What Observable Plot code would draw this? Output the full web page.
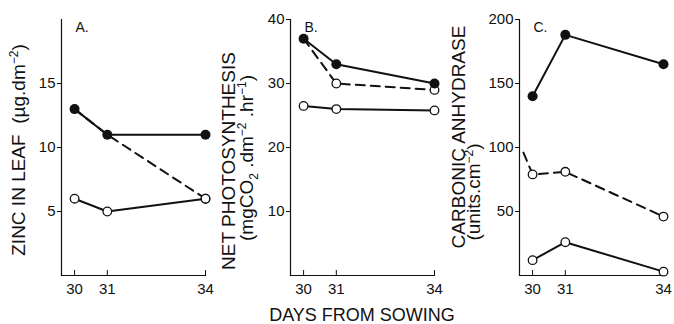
<!DOCTYPE html>
<html><head><meta charset="utf-8">
<script src="https://cdn.jsdelivr.net/npm/d3@7"></script>
<script src="https://cdn.jsdelivr.net/npm/@observablehq/plot@0.6"></script>
<style>
body{margin:0;background:#fff;font-family:"Liberation Sans",Arial,sans-serif;}
#wrap{position:relative;width:674px;height:324px;overflow:hidden;background:#fff}
.panel{position:absolute;top:0}
#caption{position:absolute;top:306px;left:262px;width:200px;text-align:center;font-size:18px;line-height:18px;color:#111;white-space:nowrap}
</style></head><body><div id="wrap"><div id="caption">DAYS FROM SOWING</div></div>
<script>
// Days from sowing (x categories)
const days = [30, 31, 34];

// A. Zinc in leaf (µg.dm-2)
const zincControl = [13, 11, 11];
const zincDeficient = [6, 5, 6];
const zincResuppliedDays = [30, 31, 34];
const zincResupplied = [13, 11, 6];
const zincTicks = [5, 10, 15];

// B. Net photosynthesis (mgCO2.dm-2.hr-1)
const psControl = [37, 33, 30];
const psDeficient = [26.5, 26, 25.8];
const psResuppliedDays = [30, 31, 34];
const psResupplied = [37, 30, 29];
const psTicks = [10, 20, 30, 40];

// C. Carbonic anhydrase (units.cm-2)
const caControl = [140, 188, 165];
const caDeficient = [12, 26, 3];
const caResuppliedDays = [29.72, 30, 31, 34];
const caResupplied = [96, 79, 81, 46];
const caTicks = [50, 100, 150, 200];

const FONT = '"Liberation Sans", Arial, sans-serif';
const INK = "#111";

const panels = [
  {left: 0, width: 229, yMax: 20, yTicks: zincTicks, control: zincControl, deficient: zincDeficient,
   resDays: zincResuppliedDays, resupplied: zincResupplied, letter: "A.",
   labels: [{x: 25, y: 150, parts: [["ZINC IN LEAF  (µg.dm"], ["−2", "sup"], [")"]]}]},
  {left: 229, width: 229, yMax: 40, yTicks: psTicks, control: psControl, deficient: psDeficient,
   resDays: psResuppliedDays, resupplied: psResupplied, letter: "B.",
   labels: [{x: 6, y: 161, parts: [["NET PHOTOSYNTHESIS"]]},
            {x: 24, y: 158, parts: [["(mgCO"], ["2", "sub"], [" .dm"], ["−2", "sup"], [" .hr"], ["−1", "sup"], [")"]]}]},
  {left: 458, width: 216, yMax: 200, yTicks: caTicks, control: caControl, deficient: caDeficient,
   resDays: caResuppliedDays, resupplied: caResupplied, letter: "C.",
   labels: [{x: 7, y: 137, parts: [["CARBONIC ANHYDRASE"]]},
            {x: 22, y: 192, parts: [["(units.cm"], ["−2", "sup"], [")"]]}]}
];

const wrap = document.getElementById("wrap");

for (const p of panels) {
  const ctrl = days.map((d, i) => ({day: d, v: p.control[i]}));
  const def = days.map((d, i) => ({day: d, v: p.deficient[i]}));
  const res = p.resDays.map((d, i) => ({day: d, v: p.resupplied[i]}));
  const resMarked = res.filter(r => days.includes(r.day) && r.v !== p.control[days.indexOf(r.day)]);
  const svg = Plot.plot({
    width: p.width, height: 300,
    marginLeft: 61, marginRight: p.width - 61 - 144, marginTop: 19, marginBottom: 25,
    style: {fontFamily: FONT, fontSize: "15px", color: INK, background: "white", overflow: "visible"},
    x: {domain: [29.6, 34]},
    y: {domain: [0, p.yMax]},
    marks: [
      Plot.frame({anchor: "left", stroke: INK, strokeWidth: 1.2}),
      Plot.frame({anchor: "bottom", stroke: INK, strokeWidth: 1.2}),
      Plot.axisX({ticks: days, tickSize: -5, tickPadding: 13, label: null, tickFormat: d => String(d)}),
      Plot.axisY({ticks: p.yTicks, tickSize: 4, tickPadding: 2, label: null}),
      Plot.line(def, {x: "day", y: "v", stroke: INK, strokeWidth: 2}),
      Plot.line(res, {x: "day", y: "v", stroke: INK, strokeWidth: 2, strokeDasharray: "9,6"}),
      Plot.line(ctrl, {x: "day", y: "v", stroke: INK, strokeWidth: 2}),
      Plot.dot(def, {x: "day", y: "v", r: 4.3, fill: "white", stroke: INK, strokeWidth: 1.3}),
      Plot.dot(resMarked, {x: "day", y: "v", r: 4.3, fill: "white", stroke: INK, strokeWidth: 1.3}),
      Plot.dot(ctrl, {x: "day", y: "v", r: 5, fill: INK}),
      Plot.text([p.letter], {frameAnchor: "top-left", dx: 14, dy: 3, fontSize: 14, textAnchor: "start", fill: INK})
    ]
  });
  const g = d3.select(svg).append("g").attr("font-family", FONT).attr("fill", INK);
  for (const l of p.labels) {
    const t = g.append("text")
      .attr("transform", `translate(${l.x},${l.y}) rotate(-90)`)
      .attr("text-anchor", "middle")
      .attr("font-size", 19);
    let shift = 0;
    for (const [s, kind] of l.parts) {
      const ts = t.append("tspan").text(s);
      let target = 0;
      if (kind === "sup") { ts.attr("font-size", 12); target = -7; }
      else if (kind === "sub") { ts.attr("font-size", 12); target = 5; }
      ts.attr("dy", target - shift);
      shift = target;
    }
  }
  const div = document.createElement("div");
  div.className = "panel";
  div.style.left = p.left + "px";
  div.appendChild(svg);
  wrap.appendChild(div);
}
</script>
</body></html>
